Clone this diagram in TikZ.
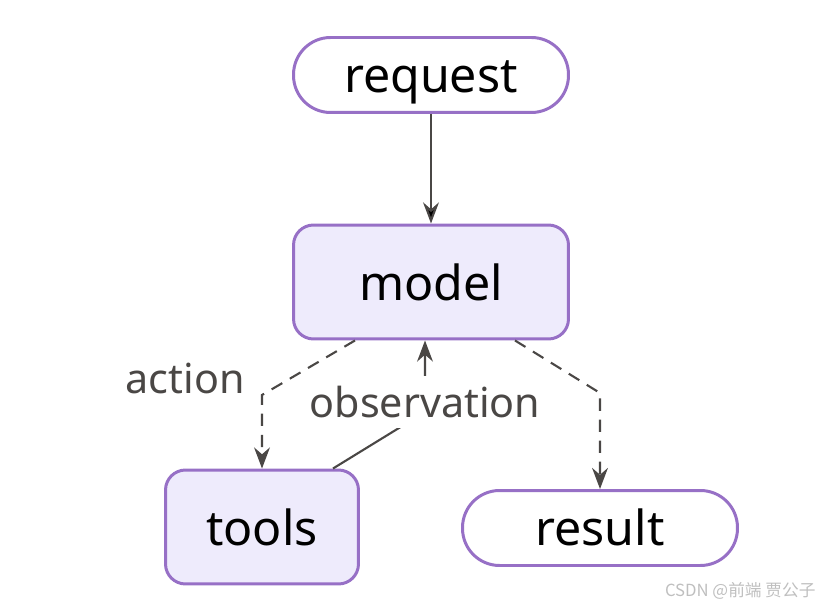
\documentclass[tikz,border=0pt]{standalone}
\usepackage{fontspec}
\setmainfont{Noto Sans}
\newfontfamily\cjkfont{Noto Sans CJK SC}
\usetikzlibrary{arrows.meta}
\definecolor{nodeborder}{RGB}{151,112,198}
\definecolor{nodefill}{RGB}{238,235,252}
\definecolor{linkgray}{RGB}{74,71,69}
\begin{document}
\begin{tikzpicture}[x=0.02cm, y=-0.02cm, thick,
    endpoint/.style={draw=nodeborder, line width=1.7pt, fill=white, rounded corners=0.74cm,
        minimum width=5.5cm, minimum height=1.5cm, text height=23pt, text depth=3pt,
        font=\fontsize{27.5}{33}\selectfont},
    main node/.style={draw=nodeborder, line width=1.7pt, fill=nodefill, rounded corners=0.4cm,
        minimum height=2.28cm, text height=23pt, text depth=2pt,
        font=\fontsize{27.5}{33}\selectfont},
    link/.style={draw=linkgray, line width=1.2pt},
    dashed link/.style={link, dash pattern=on 7pt off 5pt},
    link label/.style={text=linkgray, font=\fontsize{23.5}{28}\selectfont, inner sep=1pt}]
    \useasboundingbox (0,0) rectangle (831,607);
    \node[endpoint] (request) at (431,75) {request};
    \node[main node, minimum width=5.5cm] (model) at (431,282) {model};
    \node[main node, minimum width=3.86cm] (tools) at (262,527) {tools};
    \node[endpoint] (result) at (600,528) {result};
    \coordinate (actionbend) at (262,395);
    \coordinate (resultbend) at (600,393);
    \coordinate (obsbend) at (425,412);
    \path[link, -{Stealth[length=12pt, width=9pt]}]
        (request) edge (model);
    \draw[dashed link, -{Stealth[length=12pt, width=9pt]}]
        ([xshift=-1.52cm]model.south) -- (actionbend) -- (tools.north);
    \draw[dashed link, -{Stealth[length=12pt, width=9pt]}]
        ([xshift=1.68cm]model.south) -- (resultbend) -- (result.north);
    \draw[link, -{Stealth[length=12pt, width=9pt]}]
        ([xshift=1.42cm]tools.north) -- (obsbend) -- ([xshift=-0.12cm]model.south);
    \node[link label] (action) at (185,378) {action};
    \node[link label, fill=white, inner ysep=6pt] (observation) at (425,402) {observation};
    \node[text=black!25, font=\cjkfont\fontsize{9.5}{11}\selectfont, anchor=east] (mark) at (822,591) {CSDN @前端 贾公子};
\end{tikzpicture}
\end{document}
